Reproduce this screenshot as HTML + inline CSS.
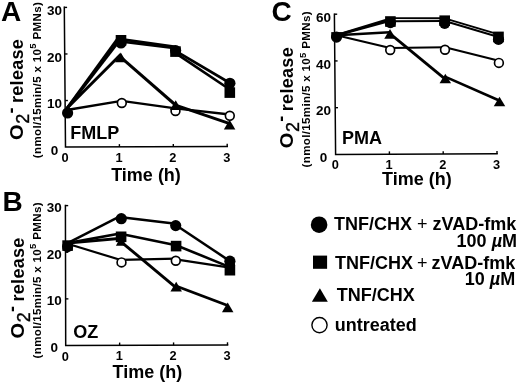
<!DOCTYPE html>
<html lang="en">
<head>
<meta charset="utf-8">
<title>Figure</title>
<style>
html,body{margin:0;padding:0;background:#fff;}
body{width:520px;height:383px;overflow:hidden;}
svg{display:block;}
text{font-family:"Liberation Sans", Arial, Helvetica, sans-serif;font-weight:bold;fill:#000;}
.tk{font-size:13.5px;}
.big{font-size:18px;}
.sm{font-size:11.6px;}
.pl{font-size:28px;}
</style>
</head>
<body>
<svg width="520" height="383" viewBox="0 0 520 383">
<rect width="520" height="383" fill="#fff"/>
<path d="M64.29,6.60 L65.50,147.10 L228.00,146.60" fill="none" stroke="#000" stroke-width="1.5" stroke-linejoin="miter"/>
<path d="M64.30,7.40 h2.8" stroke="#000" stroke-width="1.4"/>
<text x="54.6" y="15.00" text-anchor="middle" class="tk">30</text>
<path d="M64.70,53.97 h2.8" stroke="#000" stroke-width="1.4"/>
<text x="54.6" y="61.57" text-anchor="middle" class="tk">20</text>
<path d="M65.10,100.53 h2.8" stroke="#000" stroke-width="1.4"/>
<text x="54.6" y="108.13" text-anchor="middle" class="tk">10</text>
<text x="54.6" y="154.70" text-anchor="middle" class="tk">0</text>
<text x="65.10" y="162.10" text-anchor="middle" class="tk" style="font-size:12.8px">0</text>
<path d="M119.40,146.93 v-2.8" stroke="#000" stroke-width="1.4"/>
<text x="119.00" y="161.93" text-anchor="middle" class="tk" style="font-size:12.8px">1</text>
<path d="M173.30,146.77 v-2.8" stroke="#000" stroke-width="1.4"/>
<text x="172.90" y="161.77" text-anchor="middle" class="tk" style="font-size:12.8px">2</text>
<path d="M227.20,146.60 v-2.8" stroke="#000" stroke-width="1.4"/>
<text x="226.80" y="161.60" text-anchor="middle" class="tk" style="font-size:12.8px">3</text>
<text x="111.2" y="181.1" class="big">Time (h)</text>
<text x="0.9" y="20.8" class="pl">A</text>
<text x="70.2" y="139.2" class="big">FMLP</text>
<text transform="translate(23.4,140.0) rotate(-90) scale(1.12,1.04)" class="big">O</text>
<text transform="translate(23.4,139.9) rotate(-90)" class="big"><tspan x="16.1" dy="5.9" font-weight="normal" stroke="#000" stroke-width="0.4">2</tspan><tspan x="26.4" dy="-11.9">-</tspan><tspan x="36.9" dy="6" style="letter-spacing:0.3px">release</tspan></text>
<text transform="translate(40.8,158.2) rotate(-90)" class="sm" style="letter-spacing:0.32px">(nmol/15min/5 x 10<tspan dy="-4.6" font-size="9.5">5</tspan><tspan dy="4.6"> PMNs)</tspan></text>
<polyline points="66.8,110 121.5,100.9 175.5,108.3 229.8,114.5" fill="none" stroke="#000" stroke-width="2.3" stroke-linejoin="round"/>
<line x1="67" y1="108.3" x2="120.9" y2="54.2" stroke="#000" stroke-width="3.0"/>
<line x1="120.9" y1="57.4" x2="175.5" y2="105" stroke="#000" stroke-width="3.0"/>
<line x1="175.5" y1="105.2" x2="229" y2="123.4" stroke="#000" stroke-width="3.0"/>
<line x1="67" y1="108.3" x2="118.5" y2="37.7" stroke="#000" stroke-width="2.9"/>
<line x1="120.5" y1="39.2" x2="175.5" y2="46.8" stroke="#000" stroke-width="2.7"/>
<line x1="175.5" y1="53.1" x2="229.8" y2="89.5" stroke="#000" stroke-width="2.7"/>
<line x1="67" y1="108.3" x2="120.5" y2="39.2" stroke="#000" stroke-width="2.9"/>
<line x1="120.5" y1="41.5" x2="175.5" y2="48.2" stroke="#000" stroke-width="2.7"/>
<line x1="175.5" y1="50.8" x2="229.9" y2="83" stroke="#000" stroke-width="2.7"/>
<circle cx="121.8" cy="103" r="4.4" fill="#fff" stroke="#000" stroke-width="1.65"/>
<circle cx="175.5" cy="111" r="4.4" fill="#fff" stroke="#000" stroke-width="1.65"/>
<circle cx="229.8" cy="115.8" r="4.4" fill="#fff" stroke="#000" stroke-width="1.65"/>
<polygon points="120.80,52.55 126.55,62.25 115.05,62.25" fill="#000"/>
<polygon points="175.70,100.35 181.45,110.05 169.95,110.05" fill="#000"/>
<polygon points="229.60,119.75 235.35,129.45 223.85,129.45" fill="#000"/>
<rect x="115.70" y="35.00" width="10.6" height="10.6" fill="#000"/>
<rect x="170.20" y="46.30" width="10.6" height="10.6" fill="#000"/>
<rect x="224.50" y="87.30" width="10.6" height="10.6" fill="#000"/>
<circle cx="121" cy="43" r="5.6" fill="#000"/>
<circle cx="175.6" cy="50.6" r="5.6" fill="#000"/>
<circle cx="229.9" cy="83.3" r="5.6" fill="#000"/>
<circle cx="67.6" cy="113" r="5.6" fill="#000"/>
<path d="M65.40,204.80 L65.70,345.50 L228.30,345.10" fill="none" stroke="#000" stroke-width="1.5" stroke-linejoin="miter"/>
<path d="M65.40,205.60 h2.8" stroke="#000" stroke-width="1.4"/>
<text x="54.2" y="212.00" text-anchor="middle" class="tk">30</text>
<path d="M65.50,252.23 h2.8" stroke="#000" stroke-width="1.4"/>
<text x="54.2" y="258.63" text-anchor="middle" class="tk">20</text>
<path d="M65.60,298.87 h2.8" stroke="#000" stroke-width="1.4"/>
<text x="54.2" y="305.27" text-anchor="middle" class="tk">10</text>
<text x="54.2" y="351.90" text-anchor="middle" class="tk">0</text>
<text x="65.30" y="360.50" text-anchor="middle" class="tk" style="font-size:12.8px">0</text>
<path d="M119.63,345.37 v-2.8" stroke="#000" stroke-width="1.4"/>
<text x="119.23" y="360.37" text-anchor="middle" class="tk" style="font-size:12.8px">1</text>
<path d="M173.57,345.23 v-2.8" stroke="#000" stroke-width="1.4"/>
<text x="173.17" y="360.23" text-anchor="middle" class="tk" style="font-size:12.8px">2</text>
<path d="M227.50,345.10 v-2.8" stroke="#000" stroke-width="1.4"/>
<text x="227.10" y="360.10" text-anchor="middle" class="tk" style="font-size:12.8px">3</text>
<text x="112.5" y="378.1" class="big">Time (h)</text>
<text x="2.4" y="210.7" class="pl">B</text>
<text x="73.2" y="338.3" class="big">OZ</text>
<text transform="translate(23.6,338.5) rotate(-90) scale(1.12,1.04)" class="big">O</text>
<text transform="translate(23.6,338.4) rotate(-90)" class="big"><tspan x="16.1" dy="5.9" font-weight="normal" stroke="#000" stroke-width="0.4">2</tspan><tspan x="26.4" dy="-11.9">-</tspan><tspan x="36.9" dy="6" style="letter-spacing:0.3px">release</tspan></text>
<text transform="translate(40.9,358.4) rotate(-90)" class="sm" style="letter-spacing:0.32px">(nmol/15min/5 x 10<tspan dy="-4.6" font-size="9.5">5</tspan><tspan dy="4.6"> PMNs)</tspan></text>
<line x1="67.6" y1="243.7" x2="121.6" y2="260.3" stroke="#000" stroke-width="2.2"/>
<line x1="121.6" y1="259.9" x2="175.8" y2="258.6" stroke="#000" stroke-width="2.2"/>
<line x1="175.8" y1="259.4" x2="229.9" y2="267.6" stroke="#000" stroke-width="2.2"/>
<line x1="67.6" y1="243.1" x2="121.4" y2="238.3" stroke="#000" stroke-width="2.9"/>
<line x1="121.1" y1="241.8" x2="175.7" y2="287.3" stroke="#000" stroke-width="2.9"/>
<line x1="176" y1="286" x2="227.7" y2="305.5" stroke="#000" stroke-width="2.9"/>
<line x1="67.6" y1="243.1" x2="121.4" y2="233.2" stroke="#000" stroke-width="2.6"/>
<line x1="121.4" y1="234" x2="176.1" y2="245.2" stroke="#000" stroke-width="2.6"/>
<line x1="176.1" y1="245.2" x2="229.9" y2="267.1" stroke="#000" stroke-width="2.6"/>
<line x1="67.6" y1="243.1" x2="121.3" y2="215.6" stroke="#000" stroke-width="2.5"/>
<line x1="121.3" y1="217.2" x2="175.7" y2="223.8" stroke="#000" stroke-width="2.5"/>
<line x1="175.7" y1="225" x2="229.9" y2="261.1" stroke="#000" stroke-width="2.5"/>
<circle cx="121.5" cy="262.4" r="4.4" fill="#fff" stroke="#000" stroke-width="1.65"/>
<circle cx="175.8" cy="260.8" r="4.4" fill="#fff" stroke="#000" stroke-width="1.65"/>
<circle cx="229.9" cy="265" r="4.4" fill="#fff" stroke="#000" stroke-width="1.65"/>
<polygon points="121.10,236.15 126.30,245.85 115.90,245.85" fill="#000"/>
<polygon points="176.20,281.75 181.95,291.45 170.45,291.45" fill="#000"/>
<polygon points="227.70,302.55 233.45,312.25 221.95,312.25" fill="#000"/>
<rect x="115.80" y="231.50" width="10.6" height="10.6" fill="#000"/>
<rect x="170.80" y="240.80" width="10.6" height="10.6" fill="#000"/>
<rect x="224.60" y="264.90" width="10.6" height="10.6" fill="#000"/>
<circle cx="121.3" cy="218.7" r="5.6" fill="#000"/>
<circle cx="175.7" cy="225.6" r="5.6" fill="#000"/>
<circle cx="229.9" cy="261.2" r="5.6" fill="#000"/>
<rect x="62.30" y="240.30" width="10.6" height="10.6" fill="#000"/>
<circle cx="67.6" cy="246.6" r="5.6" fill="#000"/>
<path d="M334.39,13.40 L335.60,154.40 L497.80,153.70" fill="none" stroke="#000" stroke-width="1.5" stroke-linejoin="miter"/>
<path d="M334.40,14.20 h2.8" stroke="#000" stroke-width="1.4"/>
<text x="323.6" y="21.80" text-anchor="middle" class="tk">60</text>
<path d="M334.80,60.93 h2.8" stroke="#000" stroke-width="1.4"/>
<text x="323.6" y="68.53" text-anchor="middle" class="tk">40</text>
<path d="M335.20,107.67 h2.8" stroke="#000" stroke-width="1.4"/>
<text x="323.6" y="115.27" text-anchor="middle" class="tk">20</text>
<text x="323.6" y="162.00" text-anchor="middle" class="tk">0</text>
<text x="335.20" y="169.40" text-anchor="middle" class="tk" style="font-size:12.8px">0</text>
<path d="M389.40,154.17 v-2.8" stroke="#000" stroke-width="1.4"/>
<text x="389.00" y="169.17" text-anchor="middle" class="tk" style="font-size:12.8px">1</text>
<path d="M443.20,153.93 v-2.8" stroke="#000" stroke-width="1.4"/>
<text x="442.80" y="168.93" text-anchor="middle" class="tk" style="font-size:12.8px">2</text>
<path d="M497.00,153.70 v-2.8" stroke="#000" stroke-width="1.4"/>
<text x="496.60" y="168.70" text-anchor="middle" class="tk" style="font-size:12.8px">3</text>
<text x="382.1" y="184.9" class="big">Time (h)</text>
<text x="271.5" y="21.4" class="pl">C</text>
<text x="342" y="144" class="big">PMA</text>
<text transform="translate(293,148.2) rotate(-90) scale(1.12,1.04)" class="big">O</text>
<text transform="translate(293,148.1) rotate(-90)" class="big"><tspan x="16.1" dy="5.9" font-weight="normal" stroke="#000" stroke-width="0.4">2</tspan><tspan x="26.4" dy="-11.9">-</tspan><tspan x="36.9" dy="6" style="letter-spacing:0.3px">release</tspan></text>
<text transform="translate(310.4,167.4) rotate(-90)" class="sm" style="letter-spacing:0.32px">(nmol/15min/5 x 10<tspan dy="-4.6" font-size="9.5">5</tspan><tspan dy="4.6"> PMNs)</tspan></text>
<line x1="336.5" y1="35.3" x2="390.2" y2="48" stroke="#000" stroke-width="2.2" stroke-linecap="round"/>
<line x1="390.2" y1="48" x2="445" y2="47.2" stroke="#000" stroke-width="1.9" stroke-linecap="round"/>
<line x1="445" y1="47.2" x2="498.9" y2="60.8" stroke="#000" stroke-width="2.0" stroke-linecap="round"/>
<line x1="336.5" y1="35.3" x2="389.9" y2="32.3" stroke="#000" stroke-width="2.4"/>
<line x1="389.9" y1="33.7" x2="445.5" y2="79.3" stroke="#000" stroke-width="2.8"/>
<line x1="445.5" y1="76.9" x2="499.2" y2="100.5" stroke="#000" stroke-width="2.6"/>
<line x1="336.5" y1="35.3" x2="390.5" y2="18.7" stroke="#000" stroke-width="2.6"/>
<line x1="390.5" y1="18.1" x2="444.7" y2="18.3" stroke="#000" stroke-width="1.9"/>
<line x1="444.7" y1="18.3" x2="498.5" y2="34.3" stroke="#000" stroke-width="1.9"/>
<line x1="336.5" y1="35.3" x2="390.5" y2="20.5" stroke="#000" stroke-width="2.6"/>
<line x1="390.5" y1="21.3" x2="444.7" y2="21" stroke="#000" stroke-width="1.9"/>
<line x1="444.7" y1="21" x2="498.5" y2="37" stroke="#000" stroke-width="1.9"/>
<circle cx="390.2" cy="50" r="4.4" fill="#fff" stroke="#000" stroke-width="1.65"/>
<circle cx="445" cy="49.8" r="4.4" fill="#fff" stroke="#000" stroke-width="1.65"/>
<circle cx="498.9" cy="62.9" r="4.4" fill="#fff" stroke="#000" stroke-width="1.65"/>
<polygon points="390.00,28.95 395.75,38.65 384.25,38.65" fill="#000"/>
<polygon points="445.30,73.65 451.05,83.35 439.55,83.35" fill="#000"/>
<polygon points="499.50,96.65 505.25,106.35 493.75,106.35" fill="#000"/>
<rect x="385.10" y="16.20" width="10.6" height="10.6" fill="#000"/>
<rect x="439.40" y="15.40" width="10.6" height="10.6" fill="#000"/>
<rect x="493.20" y="31.60" width="10.6" height="10.6" fill="#000"/>
<circle cx="390.4" cy="22.6" r="5.6" fill="#000"/>
<circle cx="444.7" cy="23.3" r="5.6" fill="#000"/>
<circle cx="498.5" cy="39.4" r="5.6" fill="#000"/>
<rect x="331.25" y="32.10" width="10.6" height="6" fill="#000"/>
<circle cx="336.55" cy="37.1" r="5.6" fill="#000"/>
<circle cx="319.1" cy="224.7" r="8.3" fill="#000"/>
<rect x="313" y="255.6" width="14.1" height="13.2" fill="#000"/>
<polygon points="319.9,288.3 327.8,301.8 311.9,301.8" fill="#000"/>
<circle cx="319.5" cy="325.1" r="7.6" fill="#fff" stroke="#000" stroke-width="1.4"/>
<text x="334" y="229.6" class="big">TNF/CHX <tspan font-weight="normal">+</tspan> zVAD-fmk</text>
<text x="517" y="246.8" text-anchor="end" class="big">100 <tspan font-style="italic">µ</tspan>M</text>
<text x="334.9" y="269" class="big" style="word-spacing:-0.9px">TNF/CHX <tspan font-weight="normal">+</tspan> zVAD-fmk</text>
<text x="515.2" y="285" text-anchor="end" class="big">10 <tspan font-style="italic">µ</tspan>M</text>
<text x="336.7" y="301" class="big">TNF/CHX</text>
<text x="334.8" y="330.8" class="big">untreated</text>
</svg>
</body>
</html>
